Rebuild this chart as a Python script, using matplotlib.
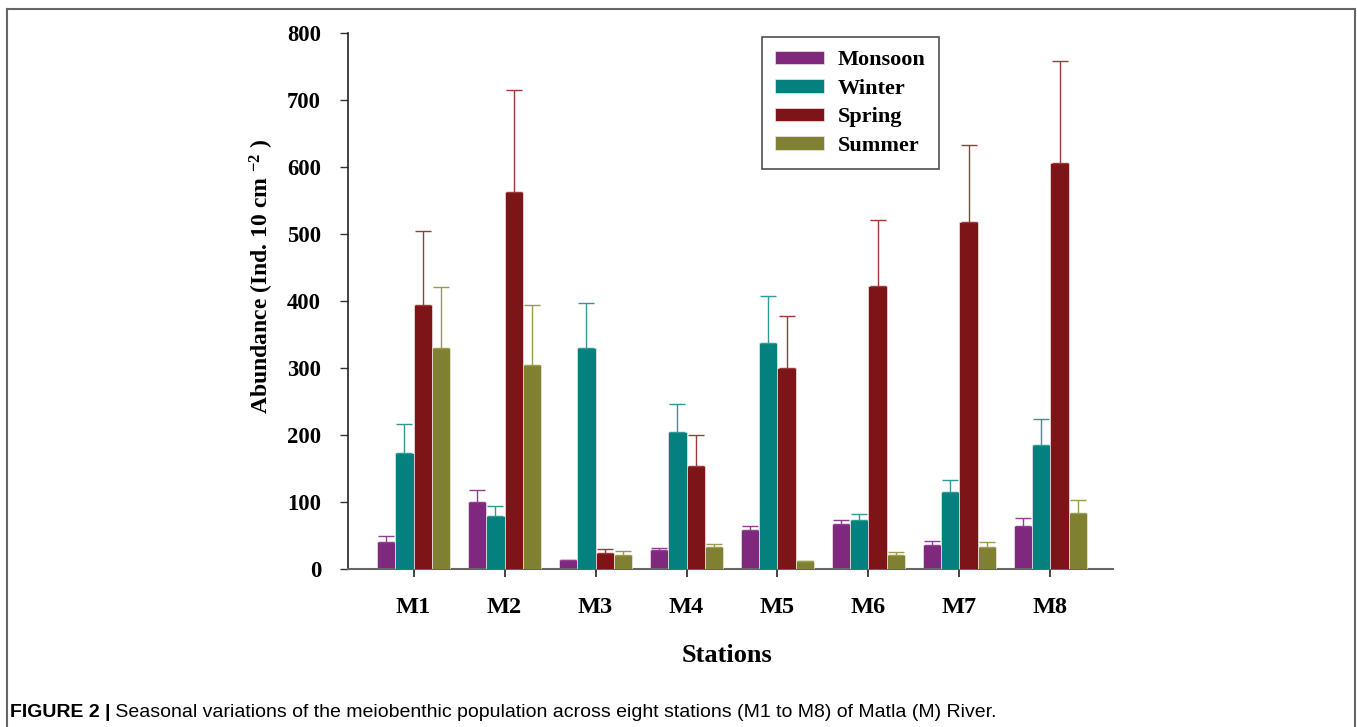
import numpy as np
import matplotlib.pyplot as plt
from matplotlib.lines import Line2D

stations = ['M1', 'M2', 'M3', 'M4', 'M5', 'M6', 'M7', 'M8']
seasons = ['Monsoon', 'Winter', 'Spring', 'Summer']

# mean abundance per station and the upper error (SD) for each season
monsoon = [41, 100, 14, 29, 59, 68, 37, 65]
monsoon_err = [8, 19, 0, 3, 6, 6, 5, 11]
winter = [173, 79, 330, 205, 338, 73, 115, 186]
winter_err = [44, 15, 68, 41, 70, 10, 19, 38]
spring = [395, 563, 25, 154, 300, 423, 518, 607]
spring_err = [110, 153, 5, 47, 78, 98, 115, 151]
summer = [330, 305, 22, 33, 12, 21, 34, 84]
summer_err = [91, 89, 5, 5, 0, 5, 7, 19]

colors = ['#7e297e', '#04807e', '#7d1417', '#808033']
err_colors = ['#8f3f8f', '#2f9896', '#9a3a3a', '#9a9a50']

W, H = 1357, 727


def main():
    plt.rcParams['font.family'] = ['Liberation Serif', 'DejaVu Serif']
    plt.rcParams['font.weight'] = 'bold'
    plt.rcParams['mathtext.fontset'] = 'custom'
    plt.rcParams['mathtext.rm'] = 'Liberation Serif:bold'
    plt.rcParams['mathtext.it'] = 'Liberation Serif:bold'
    plt.rcParams['mathtext.bf'] = 'Liberation Serif:bold'

    fig = plt.figure(figsize=(W / 100, H / 100), dpi=100)
    ax = fig.add_axes([348 / W, 1 - 569.3 / H, 765 / W, 536 / H])

    values = [monsoon, winter, spring, summer]
    errors = [monsoon_err, winter_err, spring_err, summer_err]
    x = np.arange(len(stations))
    width = 0.2

    for i, (vals, errs) in enumerate(zip(values, errors)):
        offset = (i - 1.5) * width
        ax.bar(x + offset, vals, width, color=colors[i], edgecolor='#f2e6e6',
               linewidth=0.5, label=seasons[i], zorder=2 + 2 * i,
               yerr=[np.zeros(len(errs)), errs],
               error_kw=dict(ecolor=err_colors[i], elinewidth=1.0, capsize=6,
                             capthick=1.0, zorder=3 + 2 * i))

    ax.set_xlim(-0.72, 7.687)
    ax.set_ylim(0, 800)
    ax.set_yticks(range(0, 801, 100))
    ax.set_xticks(x)
    ax.set_xticklabels(stations)

    for side in ['top', 'right']:
        ax.spines[side].set_visible(False)
    ax.spines['left'].set_color('#222222')
    ax.spines['left'].set_linewidth(1.2)
    ax.spines['bottom'].set_color('#666666')
    ax.spines['bottom'].set_linewidth(1.5)

    ax.tick_params(axis='y', direction='out', length=5.8, width=1.0,
                   color='#333333', pad=13.5, labelsize=16.3)
    ax.tick_params(axis='x', direction='out', length=6, width=1.2,
                   color='#222222', pad=14, labelsize=17.5)

    ax.set_xlabel('Stations', fontsize=19, fontweight='bold')
    ax.xaxis.set_label_coords(0.495, -0.14)

    fig.text(262 / W, 1 - 276 / H, r'Abundance (Ind. 10 cm $^{-2}$ )',
             rotation=90, ha='center', va='center', fontsize=17,
             fontweight='bold')

    leg = ax.legend(loc='upper left', bbox_to_anchor=(762 / W, 1 - 37 / H),
                    bbox_transform=fig.transFigure, frameon=True,
                    fancybox=False, edgecolor='#222222', fontsize=16,
                    handlelength=2.2, handleheight=0.55, labelspacing=0.38,
                    borderpad=0.6, handletextpad=0.6, borderaxespad=0)
    leg.get_frame().set_linewidth(1.2)

    # outer panel frame, open at the bottom
    frame_kw = dict(color='#666666', linewidth=1.5, transform=fig.transFigure)
    fig.add_artist(Line2D([7 / W, 1355 / W], [1 - 9 / H, 1 - 9 / H], **frame_kw))
    fig.add_artist(Line2D([7 / W, 7 / W], [0, 1 - 9 / H], **frame_kw))
    fig.add_artist(Line2D([1355 / W, 1355 / W], [0, 1 - 9 / H], **frame_kw))

    cap_font = ['Liberation Sans', 'DejaVu Sans']
    t1 = fig.text(10 / W, 1 - 717 / H, 'FIGURE 2 |', family=cap_font,
                  fontsize=14, fontweight='bold', ha='left', va='baseline')
    ax.annotate(' Seasonal variations of the meiobenthic population across '
                'eight stations (M1 to M8) of Matla (M) River.',
                xy=(1, 0), xycoords=t1, xytext=(0, 0),
                textcoords='offset points', ha='left', va='bottom',
                family=cap_font, fontsize=14, fontweight='normal',
                annotation_clip=False)

    fig.savefig('out.png', dpi=100)


if __name__ == "__main__":
    main()
